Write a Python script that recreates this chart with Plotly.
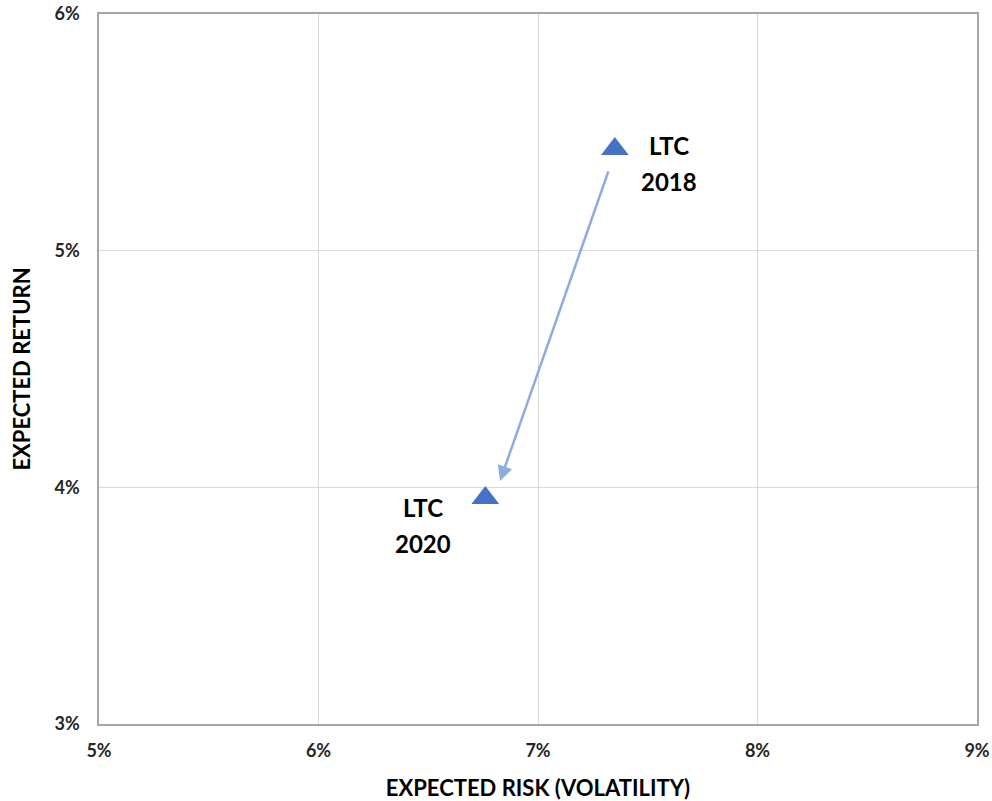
import plotly.graph_objects as go

# Portfolio positions: expected risk (volatility, %) vs expected return (%)
labels = ["LTC<br>2018", "LTC<br>2020"]
risk = [7.35, 6.76]
ret = [5.43, 3.955]

x_ticks = [5, 6, 7, 8, 9]
y_ticks = [3, 4, 5, 6]

marker_blue = "#4472C4"
arrow_blue = "#8FAADC"
font_family = "Lato"

fig = go.Figure()
fig.add_trace(go.Scatter(
    x=risk, y=ret, mode="markers",
    marker=dict(symbol="triangle-up", size=24, color=marker_blue, line=dict(width=0)),
    hoverinfo="skip", showlegend=False,
))

# Point labels, one annotation per text line for wider line spacing
label_shift = [(54, 3), (-62, -10)]
line_gap = 36
for xv, yv, txt, (dx, dy) in zip(risk, ret, labels, label_shift):
    for i, part in enumerate(txt.split("<br>")):
        fig.add_annotation(
            x=xv, y=yv, xref="x", yref="y", text=part, showarrow=False,
            xshift=dx, yshift=dy - i * line_gap, align="center",
            font=dict(family=font_family, size=24, color="#000000", weight="bold"),
        )

# Arrow from the 2018 position toward the 2020 position
tail = (risk[0] - 0.027, ret[0] - 0.089)
head = (risk[1] + 0.067, ret[1] + 0.072)
fig.add_annotation(
    x=head[0], y=head[1], ax=tail[0], ay=tail[1],
    xref="x", yref="y", axref="x", ayref="y",
    text="", showarrow=True, arrowhead=2, arrowsize=1.2, arrowwidth=2.5,
    arrowcolor=arrow_blue,
)

axis_common = dict(
    showgrid=True, gridcolor="#D9D9D9", gridwidth=1,
    showline=True, linecolor="#A6A6A6", linewidth=1.5, mirror=True,
    zeroline=False, ticks="", automargin=False,
    tickfont=dict(family=font_family, size=18, color="#262626", weight="bold"),
)

fig.update_xaxes(
    range=[x_ticks[0], x_ticks[-1]], tickvals=x_ticks,
    ticktext=[f"{v}%" for v in x_ticks],
    title=dict(text="EXPECTED RISK (VOLATILITY)", standoff=24,
               font=dict(family=font_family, size=22, color="#000000", weight="bold")),
    ticklabelstandoff=10,
    **axis_common,
)
fig.update_yaxes(
    range=[y_ticks[0], y_ticks[-1]], tickvals=y_ticks,
    ticktext=[f"{v}%" for v in y_ticks],
    title=dict(text="EXPECTED RETURN", standoff=18,
               font=dict(family=font_family, size=22, color="#000000", weight="bold")),
    ticklabelstandoff=14,
    **axis_common,
)

fig.update_layout(
    width=992, height=801,
    margin=dict(l=99, r=15, t=14, b=77),
    paper_bgcolor="white", plot_bgcolor="white",
    font=dict(family=font_family),
)

fig.write_html("out.html")
